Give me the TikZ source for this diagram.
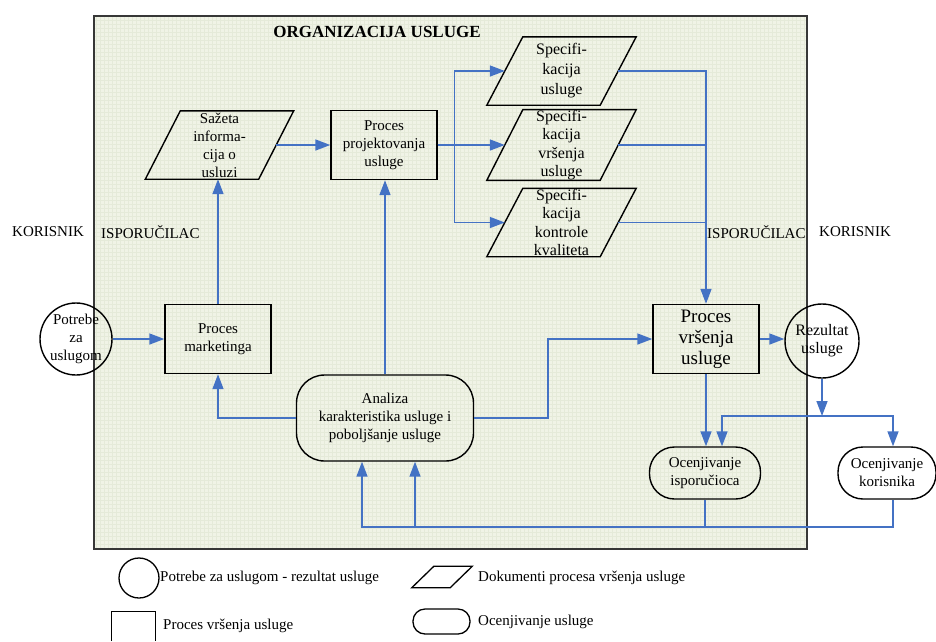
\documentclass[tikz,border=0pt]{standalone}
\usepackage{fontspec}
\setmainfont{Liberation Serif}
\usetikzlibrary{arrows.meta,calc}
\definecolor{flowblue}{RGB}{68,114,196}
\definecolor{bgfill}{RGB}{240,243,230}
\definecolor{gridc}{RGB}{229,234,217}
\definecolor{framec}{RGB}{55,55,55}
\begin{document}
\begin{tikzpicture}[x=1pt,y=-1pt,
  flow/.style={draw=flowblue, line width=1.5pt, -{Triangle[length=15pt,width=11pt]}},
  link/.style={draw=flowblue, line width=1.5pt},
  txt/.style={font=\fontsize{15}{18}\selectfont, align=center, inner sep=0pt},
  box/.style={txt, draw, line width=1.4pt, minimum width=106pt, minimum height=69pt},
  docbox/.style={txt, minimum width=113pt, minimum height=68pt},
  docline/.style={draw, line width=1.4pt},
  roundbox/.style={txt, draw, line width=1.4pt, rounded corners=25pt, minimum height=52pt},
  ring/.style={txt, draw, line width=1.4pt, circle},
  lbl/.style={font=\fontsize{15}{18}\selectfont, inner sep=0pt, anchor=west}
]
\useasboundingbox (0,0) rectangle (936,641);

% frame
\fill[bgfill] (94,16) rectangle (807,549);
\draw[gridc, line width=0.3pt, step=4pt] (94,16) grid (807,549);
\draw[framec, line width=1.8pt] (94,16) rectangle (807,549);

\node[font=\fontsize{17}{20}\selectfont\bfseries, inner sep=0pt] (title) at (377,32) {ORGANIZACIJA USLUGE};

% side labels
\node[lbl] (korL) at (12,232) {KORISNIK};
\node[lbl] (ispL) at (101,232) {ISPORUČILAC};
\node[lbl] (ispR) at (707,232) {ISPORUČILAC};
\node[lbl] (korR) at (819,232) {KORISNIK};

% nodes
\node[ring, minimum size=72pt] (potrebe) at (76,339) {Potrebe\\za\\uslugom};
\node[box] (marketing) at (218,339) {Proces\\marketinga};
\node[docbox] (sazeta) at (219.5,145) {Sažeta\\informa-\\cija o\\usluzi};
\node[box] (projekt) at (384,145) {Proces\\projektovanja\\usluge};
\node[docbox, font=\fontsize{16}{20}\selectfont] (spec1) at (561.5,71) {Specifi-\\kacija\\usluge};
\node[docbox, font=\fontsize{16}{18.5}\selectfont] (spec2) at (561.5,145) {Specifi-\\kacija\\vršenja\\usluge};
\node[docbox, font=\fontsize{16}{18.5}\selectfont] (spec3) at (561.5,222.5) {Specifi-\\kacija\\kontrole\\kvaliteta};
\node[roundbox, rounded corners=28pt, minimum width=177pt, minimum height=86pt] (analiza) at (385,418) {Analiza\\karakteristika usluge i\\poboljšanje usluge};
\node[box, font=\fontsize{19}{21}\selectfont] (vrsenja) at (706,339) {Proces\\vršenja\\usluge};
\node[ring, minimum size=74pt, font=\fontsize{16}{18}\selectfont] (rezultat) at (822,341) {Rezultat\\usluge};
\node[roundbox, minimum width=111pt] (ocisp) at (705,473) {Ocenjivanje\\isporučioca};
\node[roundbox, minimum width=98pt] (ockor) at (887,473) {Ocenjivanje\\korisnika};

% parallelogram outlines
\foreach \n/\s in {sazeta/17.5, spec1/18, spec2/18, spec3/18}{
  \draw[docline] ($(\n.south west)+(-\s,0)$) -- ($(\n.north west)+(\s,0)$)
     -- ($(\n.north east)+(\s,0)$) -- ($(\n.south east)+(-\s,0)$) -- cycle;
}

% connectors
\draw[flow] (potrebe) -- (marketing);
\draw[flow] (marketing.north) -- (marketing.north |- sazeta.south);
\draw[flow] (sazeta.east) -- (projekt.west);
\draw[flow] (projekt.east) -- ++(17,0) |- (spec1.west);
\draw[flow] (projekt.east) -- (spec2.west);
\draw[flow] (projekt.east) -- ++(17,0) |- (spec3.west);
\draw[flow] (spec1.east) -| (vrsenja.north);
\draw[link] (spec2.east) -- (spec2.east -| vrsenja.north);
\draw[link] (spec3.east) -- (spec3.east -| vrsenja.north);
\draw[flow] (analiza.north) -- (analiza.north |- projekt.south);
\draw[flow] (analiza.west) -| (marketing.south);
\draw[flow] (analiza.east) -- ++(74,0) |- (vrsenja.west);
\draw[flow] (vrsenja.east) -- (vrsenja.east -| rezultat.west);
\coordinate (split) at (822,416);
\draw[flow] (rezultat.south) -- (split);
\draw[flow] (split) -| ($(ocisp.north)+(17,0)$);
\draw[flow] (split) -| ($(ockor.north)+(6,0)$);
\draw[flow] (vrsenja.south) -- (vrsenja.south |- ocisp.north);
\coordinate (bl) at (362,527);
\coordinate (a2) at ($(analiza.south)+(30,0)$);
\draw[flow] ($(ockor.south)+(6,0)$) |- (bl) -- (bl |- analiza.south);
\draw[link] (ocisp.south) -- (ocisp.south |- bl);
\draw[flow] (a2 |- bl) -- (a2);

% legend
\node[circle, draw, line width=1.3pt, minimum size=40pt, inner sep=0pt] (lgcirc) at (139,578) {};
\node[lbl] (lgcirct) at (160,578) {Potrebe za uslugom - rezultat usluge};
\node[minimum width=38pt, minimum height=21pt, inner sep=0pt] (lgdoc) at (442,577) {};
\draw[line width=1.3pt] ($(lgdoc.south west)+(-11,0)$) -- ($(lgdoc.north west)+(11,0)$)
   -- ($(lgdoc.north east)+(11,0)$) -- ($(lgdoc.south east)+(-11,0)$) -- cycle;
\node[lbl] (lgdoct) at (478,578) {Dokumenti procesa vršenja usluge};
\node[minimum width=43pt, minimum height=29pt, inner sep=0pt] (lgbox) at (133.5,626.5) {};
\draw[line width=1.3pt] (lgbox.south west) -- (lgbox.north west) -- (lgbox.north east) -- (lgbox.south east);
\node[lbl] (lgboxt) at (163,626) {Proces vršenja usluge};
\node[draw, line width=1.3pt, rounded corners=12pt, minimum width=57pt, minimum height=25pt, inner sep=0pt] (lground) at (441.5,621.5) {};
\node[lbl] (lgroundt) at (478,622) {Ocenjivanje usluge};
\end{tikzpicture}
\end{document}
